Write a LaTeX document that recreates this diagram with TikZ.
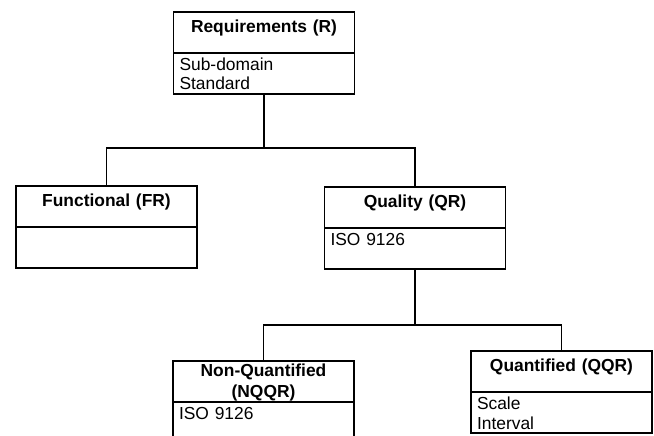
\documentclass[tikz,border=0pt]{standalone}
\usepackage{fontspec}
\setmainfont{Liberation Sans}
\usetikzlibrary{positioning}
\tikzset{
    headn/.style = {rectangle, draw=black, line width=1.1pt, outer sep=0pt, anchor=north, minimum width=181pt, minimum height=41pt, text width=169pt, inner xsep=6pt, inner ysep=1pt, align=center, font=\bfseries\fontsize{17.4}{21}\selectfont, text height=19.5pt, text depth=19.5pt},
    headtwo/.style = {text height=14pt, text depth=25pt},
    bodyn/.style = {rectangle, draw=black, line width=1.1pt, outer sep=0pt, minimum width=181pt, minimum height=41pt, text width=169pt, inner xsep=6pt, inner ysep=1pt, align=left, font=\fontsize{17.4}{19.5}\selectfont, text height=16.5pt, text depth=22.5pt},
    edgen/.style = {-, line width=1.1pt, black},
}

\begin{document}
\begin{tikzpicture}[x=1pt,y=-1pt]
\useasboundingbox (0,0) rectangle (654,436);
%
\node[headn] at (264,12) (Rh) {Requirements (R)};
\node[bodyn, below=0pt of Rh] (Rb) {Sub-domain\\Standard};
%
\node[headn] at (106.5,186) (FRh) {Functional (FR)};
\node[bodyn, below=0pt of FRh] (FRb) {};
%
\node[headn] at (415,187) (QRh) {Quality (QR)};
\node[bodyn, below=0pt of QRh] (QRb) {ISO 9126};
%
\node[headn, headtwo] at (263.5,361) (NQh) {Non-Quantified\\(NQQR)};
\node[bodyn, below=0pt of NQh] (NQb) {ISO 9126};
%
\node[headn] at (561.5,351) (QQh) {Quantified (QQR)};
\node[bodyn, below=0pt of QQh] (QQb) {Scale\\Interval};
%
\coordinate (bus1) at (0,148);
\coordinate (bus2) at (0,325);
\draw[edgen] (Rb.south) -- (Rb.south |- bus1) -| (FRh.north);
\draw[edgen] (Rb.south) -- (Rb.south |- bus1) -| (QRh.north);
\draw[edgen] (QRb.south) -- (QRb.south |- bus2) -| (NQh.north);
\draw[edgen] (QRb.south) -- (QRb.south |- bus2) -| (QQh.north);

\end{tikzpicture}
\end{document}
